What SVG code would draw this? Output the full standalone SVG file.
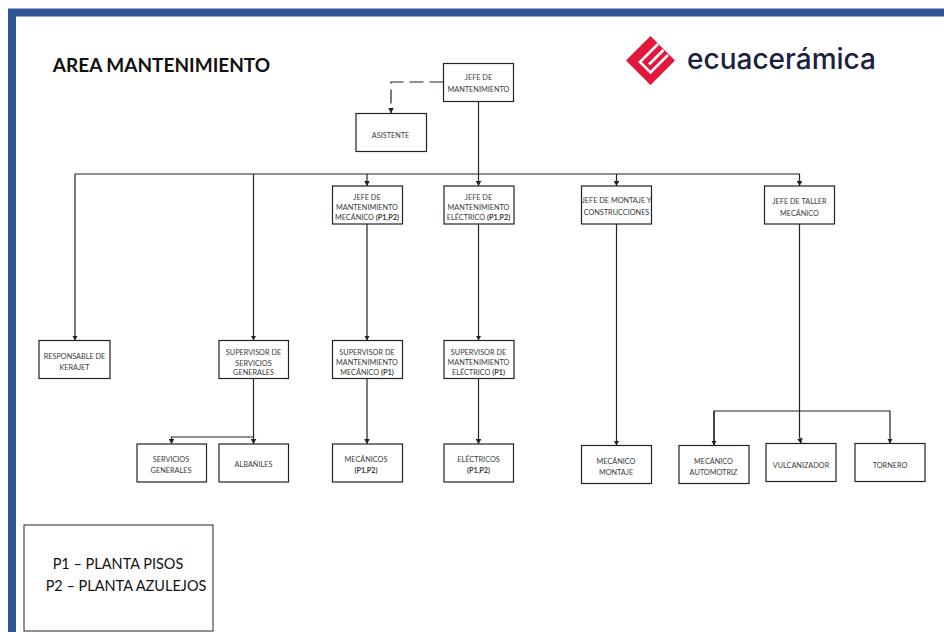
<svg xmlns="http://www.w3.org/2000/svg" width="944" height="632" viewBox="0 0 944 632">
<style>
text{font-family:"Lato","Carlito","Open Sans",sans-serif;fill:#3a3a3a;text-anchor:middle}
.n rect{fill:#fff;stroke:#222;stroke-width:1.2}
.n text{font-size:7.300px}
.n tspan{font-weight:700}
#connectors path{fill:none;stroke:#222;stroke-width:1.2}
</style>
<defs>
<marker id="a" markerUnits="userSpaceOnUse" markerWidth="6" markerHeight="6" refX="5" refY="3" orient="auto"><path d="M0 0.2L5 3L0 5.8Z" fill="#222"/></marker>
</defs>
<rect width="944" height="632" fill="#fff"/>
<path d="M8 632V8.500H944V16.500H16V632Z" fill="#2f5597"/>
<text x="161.500" y="72" style="font-size:19px;font-weight:700;fill:#111">AREA MANTENIMIENTO</text>
<g id="logo">
<path d="M650.500 36L675 60.500L650.500 85L626 60.500Z" fill="#e2173a"/>
<path d="M658 44L640 62L650.500 72.500L668 55" fill="none" stroke="#fff" stroke-width="2.600"/>
<path d="M663.500 50L649 64.500" fill="none" stroke="#fff" stroke-width="2.600"/>
<text x="781.500" y="68.500" style="font-size:28px;font-weight:500;fill:#1b2140;font-family:Inter,Lato,sans-serif">ecuacerámica</text>
</g>
<g id="connectors">
<path d="M443.500 82H391V113" stroke-dasharray="14 6" marker-end="url(#a)"/>
<path d="M478.500 101V186" marker-end="url(#a)"/>
<path d="M75 174H800"/>
<path d="M75 174V340.500" marker-end="url(#a)"/>
<path d="M253.500 174V340.500" marker-end="url(#a)"/>
<path d="M367 174V186" marker-end="url(#a)"/>
<path d="M616.500 174V186" marker-end="url(#a)"/>
<path d="M799.500 174V186" marker-end="url(#a)"/>
<path d="M367 224V340.500" marker-end="url(#a)"/>
<path d="M478.500 224V340.500" marker-end="url(#a)"/>
<path d="M616.500 224V445.500" marker-end="url(#a)"/>
<path d="M799.500 224V436.500L801 443.500" marker-end="url(#a)"/>
<path d="M714 445.500V411H890V443.500" marker-end="url(#a)"/>
<path d="M714 411V445.500" marker-end="url(#a)"/>
<path d="M253.500 378.500V444" marker-end="url(#a)"/>
<path d="M253.500 437H171.500V444" marker-end="url(#a)"/>
<path d="M367 378.500V444" marker-end="url(#a)"/>
<path d="M478.500 378.500V444" marker-end="url(#a)"/>
</g>
<g id="n1" class="n"><rect x="443.500" y="63.500" width="70" height="38"/><text x="478.500" y="80">JEFE DE</text><text x="478.500" y="92">MANTENIMIENTO</text></g>
<g id="n2" class="n"><rect x="356" y="113.500" width="70.500" height="38"/><text x="390.500" y="137.500">ASISTENTE</text></g>
<g id="n3" class="n"><rect x="332.500" y="186" width="70" height="38"/><text x="367" y="199.500">JEFE DE</text><text x="367" y="209.500">MANTENIMIENTO</text><text x="367" y="219.500">MECÁNICO <tspan>(P1,P2)</tspan></text></g>
<g id="n4" class="n"><rect x="444" y="186" width="70" height="38"/><text x="478.500" y="199.500">JEFE DE</text><text x="478.500" y="209.500">MANTENIMIENTO</text><text x="478.500" y="219.500">ELÉCTRICO <tspan>(P1,P2)</tspan></text></g>
<g id="n5" class="n"><rect x="581.500" y="186" width="70" height="38"/><text x="616.500" y="203">JEFE DE MONTAJE Y</text><text x="616.500" y="215">CONSTRUCCIONES</text></g>
<g id="n6" class="n"><rect x="764.500" y="186" width="70" height="38"/><text x="799.500" y="204">JEFE DE TALLER</text><text x="799.500" y="215.500">MECÁNICO</text></g>
<g id="n7" class="n"><rect x="39" y="340.500" width="71" height="38"/><text x="74.500" y="359">RESPONSABLE DE</text><text x="74.500" y="370">KERAJET</text></g>
<g id="n8" class="n"><rect x="219" y="340.500" width="69.500" height="38"/><text x="253.500" y="354.500">SUPERVISOR DE</text><text x="253.500" y="365.500">SERVICIOS</text><text x="253.500" y="375">GENERALES</text></g>
<g id="n9" class="n"><rect x="332.500" y="340.500" width="70" height="38"/><text x="367" y="354.500">SUPERVISOR DE</text><text x="367" y="364.500">MANTENIMIENTO</text><text x="367" y="375">MECÁNICO <tspan>(P1)</tspan></text></g>
<g id="n10" class="n"><rect x="444" y="340.500" width="70" height="38"/><text x="478.500" y="354.500">SUPERVISOR DE</text><text x="478.500" y="364.500">MANTENIMIENTO</text><text x="478.500" y="375">ELÉCTRICO <tspan>(P1)</tspan></text></g>
<g id="n11" class="n"><rect x="137" y="444" width="69.500" height="38"/><text x="171" y="462">SERVICIOS</text><text x="171" y="473">GENERALES</text></g>
<g id="n12" class="n"><rect x="219" y="444" width="69.500" height="38"/><text x="253.500" y="467">ALBAÑILES</text></g>
<g id="n13" class="n"><rect x="332.500" y="444" width="70" height="38"/><text x="366" y="462">MECÁNICOS</text><text x="366" y="473"><tspan>(P1,P2)</tspan></text></g>
<g id="n14" class="n"><rect x="444" y="444" width="69.500" height="38"/><text x="478.500" y="462">ELÉCTRICOS</text><text x="478.500" y="473"><tspan>(P1,P2)</tspan></text></g>
<g id="n15" class="n"><rect x="581.500" y="445.500" width="70" height="38"/><text x="616" y="464">MECÁNICO</text><text x="616" y="475">MONTAJE</text></g>
<g id="n16" class="n"><rect x="679" y="445.500" width="70" height="38"/><text x="713.500" y="464">MECÁNICO</text><text x="713.500" y="475">AUTOMOTRIZ</text></g>
<g id="n17" class="n"><rect x="766" y="443.500" width="70" height="38"/><text x="801" y="468">VULCANIZADOR</text></g>
<g id="n18" class="n"><rect x="855" y="443.500" width="70" height="38"/><text x="890" y="468">TORNERO</text></g>
<g id="legend"><rect x="24" y="525" width="189" height="106" fill="#fff" stroke="#222" stroke-width="1"/><text x="118" y="569" style="font-size:14.500px;fill:#111">P1 – PLANTA PISOS</text><text x="126" y="591" style="font-size:14.500px;fill:#111">P2 – PLANTA AZULEJOS</text></g>
</svg>
